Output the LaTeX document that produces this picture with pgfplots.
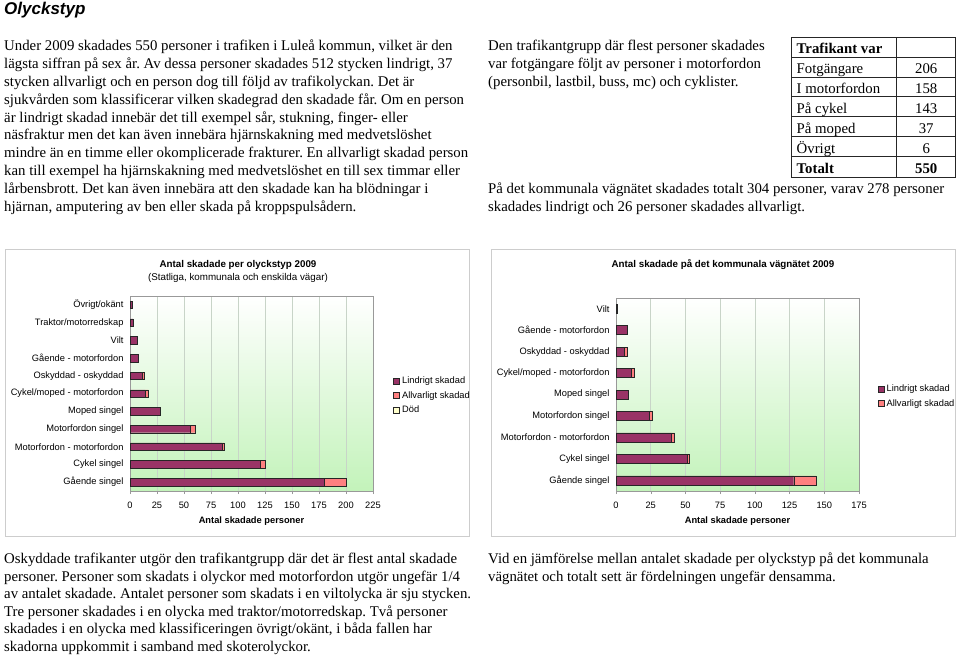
\documentclass[border=0pt]{standalone}
\usepackage{fontspec}
\setmainfont{Liberation Serif}
\newfontfamily\arial{Liberation Sans}
\usepackage{pgfplots}
\pgfplotsset{compat=1.18}
\frenchspacing
\definecolor{plum}{HTML}{993366}
\definecolor{coral}{HTML}{FF8080}
\definecolor{lyellow}{HTML}{FFFFCC}
\definecolor{gridc}{RGB}{200,212,200}
\definecolor{framec}{RGB}{205,205,205}
\definecolor{bgg}{RGB}{195,243,186}
\newcommand{\body}{\frenchspacing\fontsize{14.8}{17.8}\selectfont}
\newcommand{\cf}{\arial\fontsize{9.3}{11}\selectfont}
\newcommand{\para}[4]{%
  \foreach \t [count=\i from 0] in {#4} {\node[anchor=base west, inner sep=0pt, font=\body] at ({#1},{#2+\i*#3}) {\t};}}
\pgfplotsset{
  chart/.style={
    scale only axis, width=243pt, xbar stacked, bar width=7.5pt,
    axis background/.style={shade, top color=white, bottom color=bgg},
    xmajorgrids, grid style={gridc, line width=0.6pt},
    axis line style={black!40},
    tick align=outside, major tick length=3pt,
    xtick style={black!40}, ytick style={draw=none},
    xtick pos=bottom, ytick pos=left,
    /pgf/number format/assume math mode=true,
    ticklabel style={font=\cf},
    xticklabel style={yshift=-4pt, text height=6.7pt, text depth=0pt},
    xlabel={Antal skadade personer},
    xlabel style={font=\cf\bfseries, yshift=-2pt},
    legend image code/.code={\draw[#1] (0pt,-3pt) rectangle (6pt,3pt);},
    legend cell align=left,
    legend style={draw=none, fill=none, font=\cf, anchor=north west,
      nodes={inner sep=0pt, text height=7pt, text depth=2pt},
      row sep=5.2pt, column sep=2.5pt},
  },
  lind/.style={fill=plum, draw=black!85, line width=0.4pt},
  allv/.style={fill=coral, draw=black!85, line width=0.4pt},
}
\begin{document}
\begin{tikzpicture}[x=1pt,y=-1pt]
\useasboundingbox (0,0) rectangle (960,657);
\node[anchor=base west, inner sep=0pt, font=\arial\bfseries\itshape\fontsize{17}{20}\selectfont] at (4,14.5) {Olyckstyp};
\para{4}{50.8}{17.8}{{Under 2009 skadades 550 personer i trafiken i Luleå kommun, vilket är den},{lägsta siffran på sex år. Av dessa personer skadades 512 stycken lindrigt, 37},{stycken allvarligt och en person dog till följd av trafikolyckan. Det är},{sjukvården som klassificerar vilken skadegrad den skadade får. Om en person},{är lindrigt skadad innebär det till exempel sår, stukning, finger- eller},{näsfraktur men det kan även innebära hjärnskakning med medvetslöshet},{mindre än en timme eller okomplicerade frakturer. En allvarligt skadad person},{kan till exempel ha hjärnskakning med medvetslöshet en till sex timmar eller},{lårbensbrott. Det kan även innebära att den skadade kan ha blödningar i},{hjärnan, amputering av ben eller skada på kroppspulsådern.}}
\para{488}{50.8}{17.7}{{Den trafikantgrupp där flest personer skadades},{var fotgängare följt av personer i motorfordon},{(personbil, lastbil, buss, mc) och cyklister.}}
\para{488}{193.5}{18}{{På det kommunala vägnätet skadades totalt 304 personer, varav 278 personer},{skadades lindrigt och 26 personer skadades allvarligt.}}
\para{4}{563.5}{17.5}{{Oskyddade trafikanter utgör den trafikantgrupp där det är flest antal skadade},{personer. Personer som skadats i olyckor med motorfordon utgör ungefär 1/4},{av antalet skadade. Antalet personer som skadats i en viltolycka är sju stycken.},{Tre personer skadades i en olycka med traktor/motorredskap. Två personer},{skadades i en olycka med klassificeringen övrigt/okänt, i båda fallen har},{skadorna uppkommit i samband med skoterolyckor.}}
\para{488}{563.5}{17.5}{{Vid en jämförelse mellan antalet skadade per olyckstyp på det kommunala},{vägnätet och totalt sett är fördelningen ungefär densamma.}}
% table
\draw[black!85, line width=0.8pt] (791.7,37.3) rectangle (955.7,177.7);
\foreach \yy in {57.3,77,96.7,116.7,136.7,156.7} \draw[black!85, line width=0.8pt] (791.7,\yy) -- (955.7,\yy);
\draw[black!85, line width=0.8pt] (896.7,37.3) -- (896.7,177.7);
\foreach \lab/\val/\yy in {{\textbf{Trafikant var}}/{}/53.5, Fotgängare/206/73.3, I motorfordon/158/93, På cykel/143/113, På moped/37/133, Övrigt/6/153, {\textbf{Totalt}}/{\textbf{550}}/173.8} {
  \node[anchor=base west, inner sep=0pt, font=\body] at (796.5,\yy) {\lab};
  \node[anchor=base, inner sep=0pt, font=\body] at (926.2,\yy) {\val};
}
% chart frames
\draw[framec, line width=0.8pt] (5,249.3) rectangle (469.3,536);
\draw[framec, line width=0.8pt] (491.7,249.3) rectangle (955,536);
\node[anchor=base, inner sep=0pt, font=\arial\bfseries\fontsize{9.8}{12}\selectfont] at (238,267) {Antal skadade per olyckstyp 2009};
\node[anchor=base, inner sep=0pt, font=\arial\fontsize{9.8}{12}\selectfont] at (238,280.5) {(Statliga, kommunala och enskilda vägar)};
\node[anchor=base, inner sep=0pt, font=\arial\bfseries\fontsize{9.8}{12}\selectfont] at (723,267) {Antal skadade på det kommunala vägnätet 2009};
\begin{axis}[chart, at={(130pt,-491pt)}, anchor=south west, height=195pt,
  xmin=0, xmax=225, xtick={0,25,...,225}, ymin=-0.5, ymax=10.5, ytick={0,...,10},
  yticklabels={Gående singel,Cykel singel,Motorfordon - motorfordon,Motorfordon singel,Moped singel,Cykel/moped - motorfordon,Oskyddad - oskyddad,Gående - motorfordon,Vilt,Traktor/motorredskap,Övrigt/okänt},
  legend style={at={(1.07,0.596)}}]
\addplot[lind] coordinates {(180,0) (121,1) (85,2) (56,3) (28,4) (14,5) (11,6) (8,7) (7,8) (3,9) (2,10)};
\addplot[allv] coordinates {(20,0) (4,1) (2,2) (4,3) (0,4) (3,5) (2,6) (0,7) (0,8) (0,9) (0,10)};
\addlegendimage{fill=lyellow, draw=black!85, line width=0.4pt}
\legend{Lindrigt skadad,Allvarligt skadad,Död}
\end{axis}
\begin{axis}[chart, at={(616pt,-491pt)}, anchor=south west, height=193pt,
  xmin=0, xmax=175, xtick={0,25,...,175}, ymin=-0.5, ymax=8.5, ytick={0,...,8}, bar width=9pt,
  yticklabels={Gående singel,Cykel singel,Motorfordon - motorfordon,Motorfordon singel,Moped singel,Cykel/moped - motorfordon,Oskyddad - oskyddad,Gående - motorfordon,Vilt},
  legend style={at={(1.064,0.561)}}]
\addplot[lind] coordinates {(128,0) (51,1) (40,2) (24,3) (9,4) (11,5) (6,6) (8,7) (1,8)};
\addplot[allv] coordinates {(16,0) (2,1) (2,2) (2,3) (0,4) (2,5) (2,6) (0,7) (0,8)};
\legend{Lindrigt skadad,Allvarligt skadad}
\end{axis}
\end{tikzpicture}
\end{document}
